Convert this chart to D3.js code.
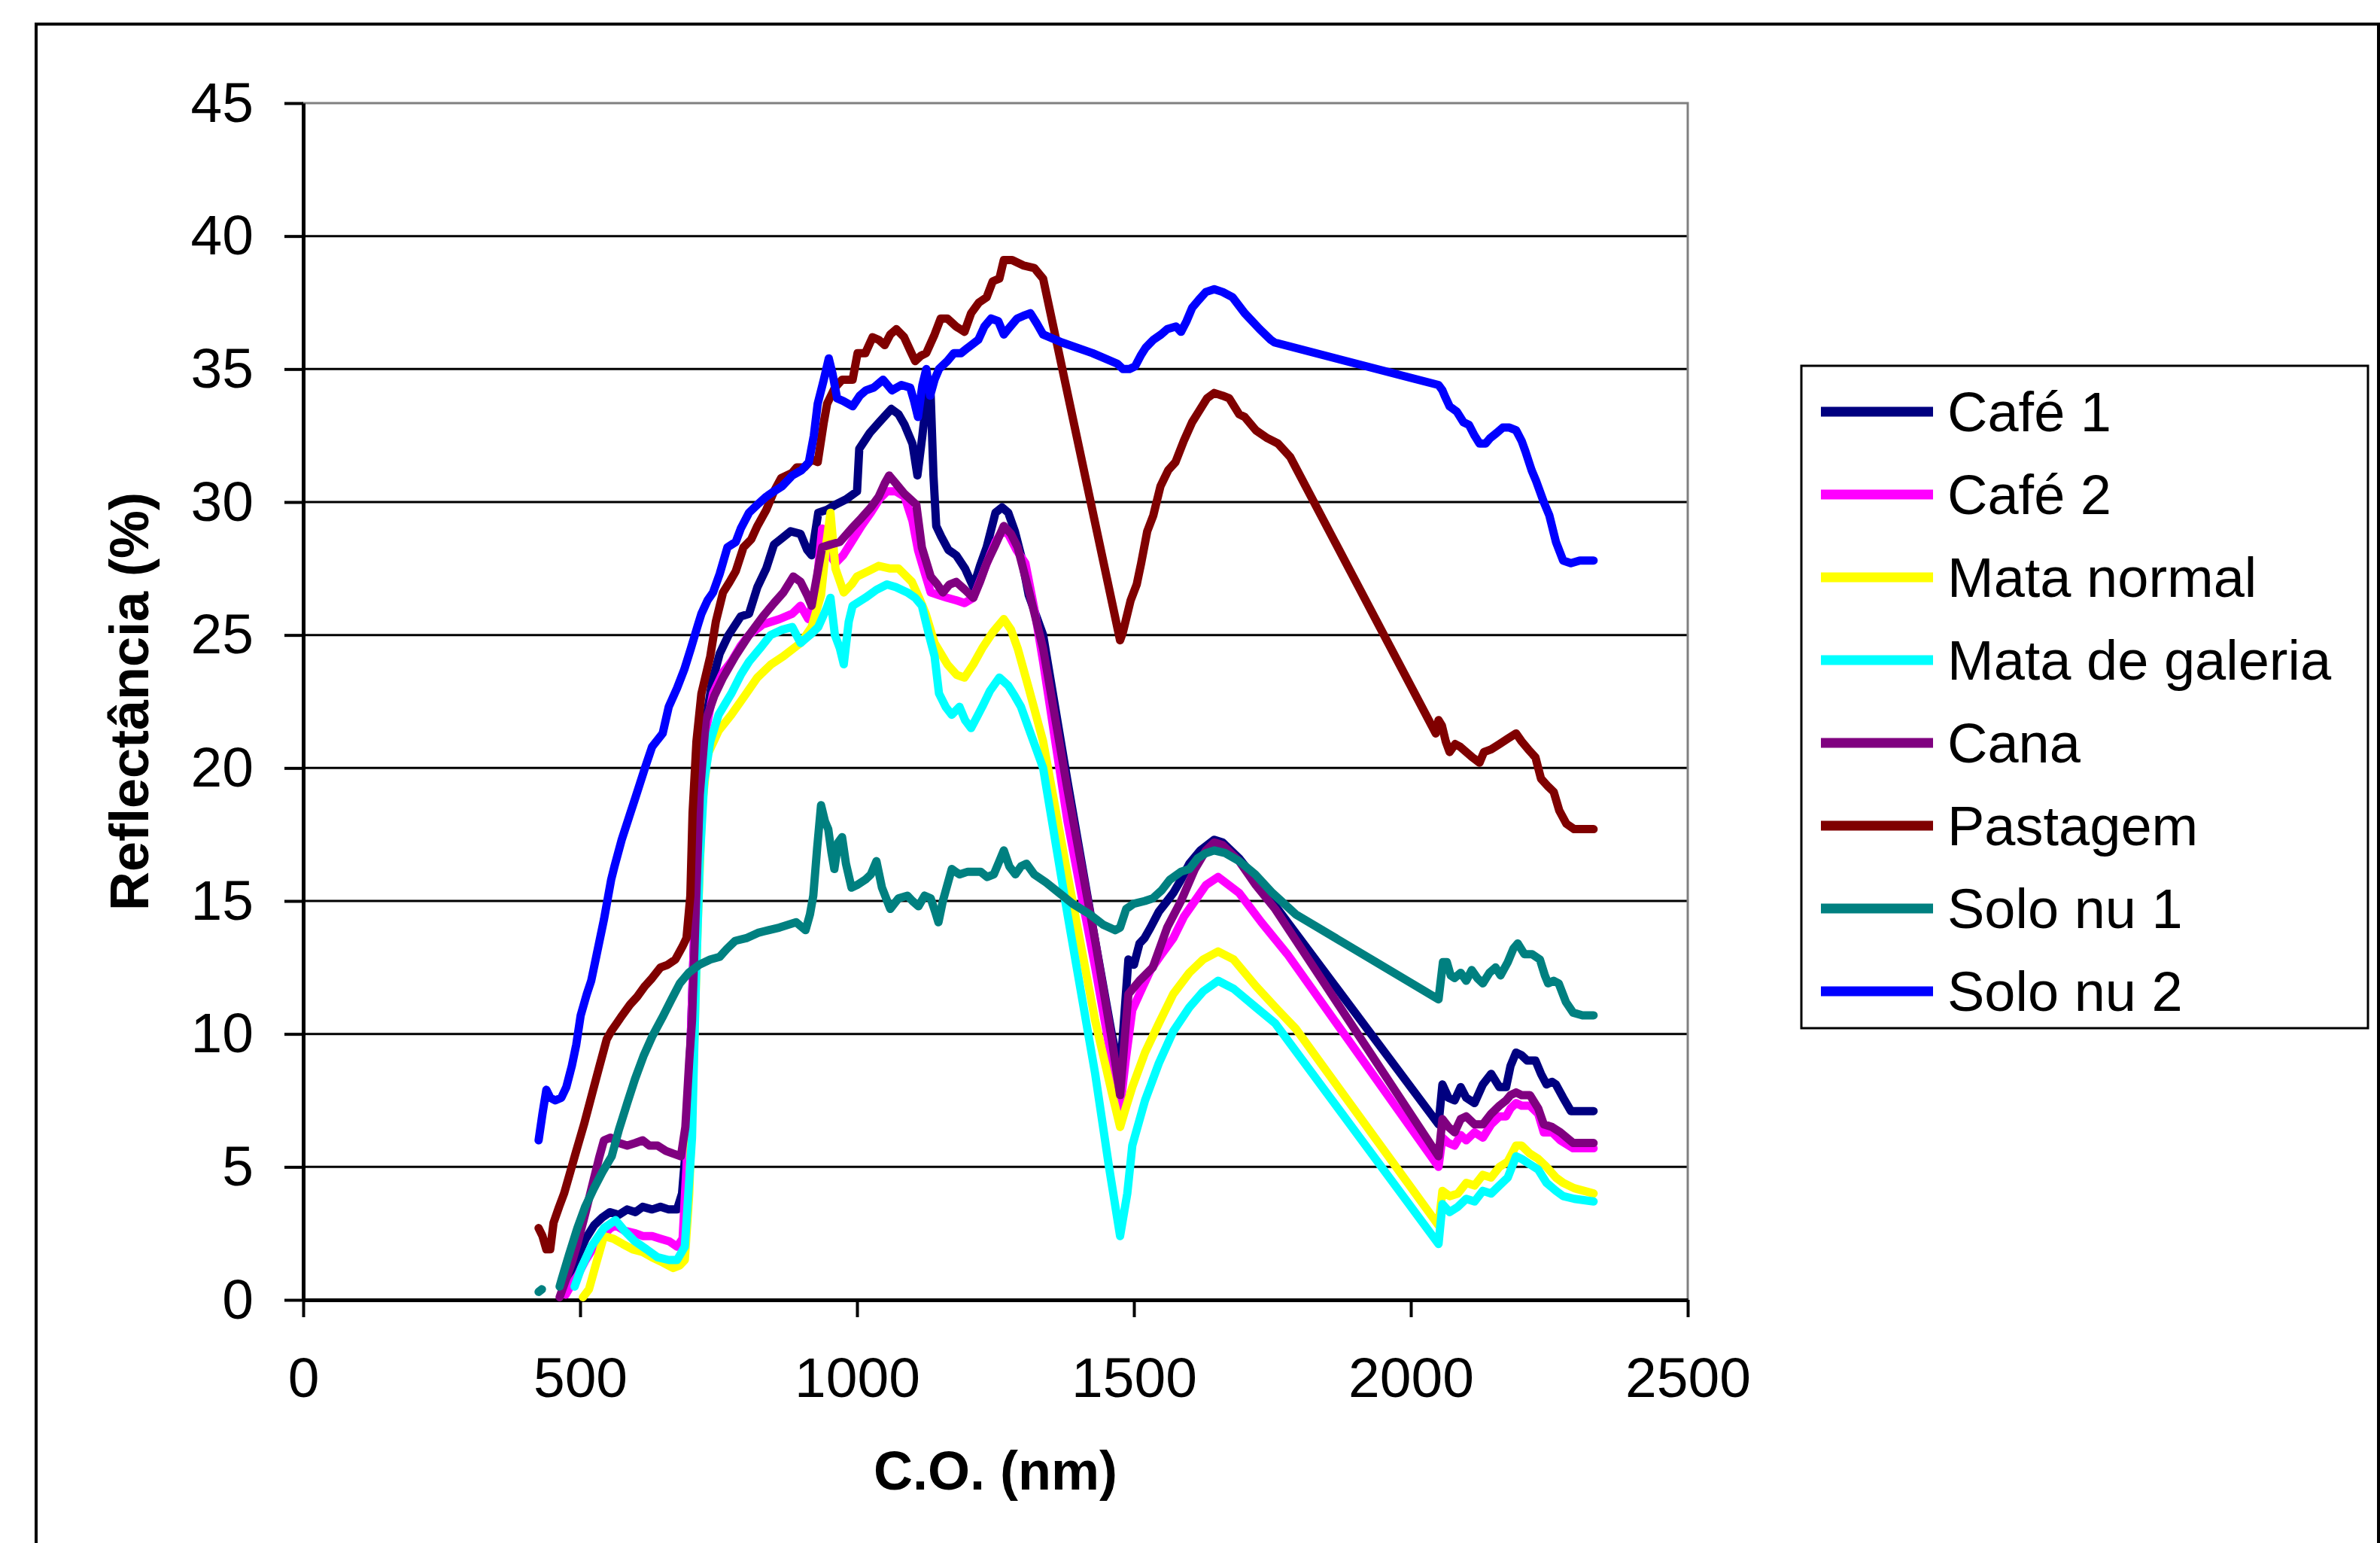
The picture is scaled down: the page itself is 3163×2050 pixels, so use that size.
<!DOCTYPE html>
<html lang="pt">
<head>
<meta charset="UTF-8">
<title>Reflectância</title>
<style>
  body { margin: 0; background: #fff; }
  text { font-family: "Liberation Sans", Arial, sans-serif; }
</style>
</head>
<body>
<script src="https://cdn.jsdelivr.net/npm/d3@7"></script>
<div id="chart"></div>
<script>
// series names and colours (legend order)
var names = ["Café 1", "Café 2", "Mata normal", "Mata de galeria", "Cana", "Pastagem", "Solo nu 1", "Solo nu 2"]
var colors = ["#000080", "#ff00ff", "#ffff00", "#00ffff", "#800080", "#800000", "#008080", "#0000ff"]

var xTicks = [0, 500, 1000, 1500, 2000, 2500]
var yTicks = [0, 5, 10, 15, 20, 25, 30, 35, 40, 45]

// [wavelength nm, reflectance %]
var cafe1 = [[468,0.3],[480,0.9],[495,1.6],[510,2.3],[525,2.8],[540,3.1],[554,3.3],[570,3.2],[585,3.4],[600,3.3],[613,3.5],[630,3.4],[645,3.5],[660,3.4],[675,3.4],[684,4.0],[692,6],[700,10],[708,15],[716,19],[725,21.5],[738,23.2],[752,24.3],[768,25],[790,25.7],[805,25.8],[820,26.8],[836,27.5],[850,28.4],[862,28.6],[880,28.9],[898,28.8],[910,28.2],[918,28.0],[930,29.6],[945,29.7],[961,29.9],[980,30.1],[1000,30.4],[1004,32.0],[1023,32.6],[1040,33.0],[1062,33.5],[1075,33.3],[1086,32.9],[1100,32.2],[1109,31.0],[1118,32.5],[1127,34.2],[1133,34.0],[1138,31],[1143,29.1],[1152,28.7],[1165,28.2],[1179,28.0],[1195,27.5],[1210,26.8],[1222,27.6],[1234,28.3],[1250,29.6],[1262,29.8],[1273,29.6],[1285,28.9],[1296,28.0],[1310,26.5],[1336,25.0],[1380,19.5],[1430,13.5],[1460,10],[1475,8.5],[1482,10.5],[1490,12.8],[1500,12.6],[1510,13.4],[1519,13.6],[1530,14.0],[1545,14.6],[1560,15.0],[1571,15.3],[1585,15.8],[1600,16.4],[1620,16.9],[1645,17.3],[1660,17.2],[1690,16.6],[1720,15.8],[2050,6.6],[2057,8.1],[2068,7.6],[2079,7.5],[2090,8.0],[2100,7.6],[2115,7.4],[2130,8.1],[2145,8.5],[2160,8.0],[2172,8.0],[2180,8.8],[2190,9.3],[2200,9.2],[2210,9.0],[2225,9.0],[2235,8.5],[2245,8.1],[2255,8.2],[2262,8.1],[2275,7.6],[2289,7.1],[2300,7.1],[2330,7.1]]

var cafe2 = [[474,0.2],[485,0.6],[495,0.9],[510,1.5],[525,2.0],[540,2.4],[555,2.7],[564,2.8],[580,2.6],[600,2.5],[613,2.4],[630,2.4],[645,2.3],[661,2.2],[675,2.0],[685,2.3],[692,5],[700,10],[708,15],[716,19],[725,21.2],[740,22.8],[758,23.6],[773,24.0],[790,24.6],[805,25.0],[830,25.4],[860,25.6],[883,25.8],[898,26.1],[912,25.6],[925,26.5],[937,29.0],[945,28.2],[961,27.7],[975,28.0],[990,28.5],[1008,29.1],[1025,29.6],[1040,30.1],[1054,30.4],[1070,30.4],[1086,30.2],[1100,29.3],[1110,28.2],[1117,27.7],[1133,26.6],[1148,26.5],[1163,26.4],[1180,26.3],[1194,26.2],[1210,26.4],[1225,27.2],[1240,28.0],[1250,28.5],[1262,28.9],[1273,28.8],[1288,28.2],[1304,27.7],[1320,26.0],[1336,24.0],[1380,18.0],[1430,12.5],[1460,9.0],[1475,7.2],[1485,9.0],[1497,10.9],[1510,11.5],[1530,12.4],[1550,13.0],[1571,13.6],[1590,14.4],[1610,15.0],[1630,15.6],[1652,15.9],[1690,15.3],[1730,14.2],[1777,13.0],[2050,5.0],[2057,6.1],[2068,5.9],[2079,5.8],[2090,6.2],[2100,6.0],[2115,6.3],[2130,6.1],[2145,6.6],[2160,6.9],[2172,6.9],[2180,7.2],[2190,7.4],[2200,7.3],[2215,7.3],[2230,7.0],[2240,6.3],[2255,6.3],[2270,6.0],[2293,5.7],[2330,5.7]]

var mataNormal = [[505,0.1],[516,0.4],[528,1.3],[543,2.4],[560,2.3],[577,2.1],[595,1.9],[613,1.8],[630,1.6],[650,1.4],[668,1.2],[680,1.3],[689,1.5],[697,4],[705,9],[712,14],[720,18.5],[730,20.5],[750,21.4],[773,22.0],[800,22.8],[820,23.4],[845,23.9],[867,24.2],[898,24.7],[918,25.3],[935,26.5],[945,28.5],[952,29.6],[961,27.5],[976,26.6],[990,26.9],[1000,27.2],[1020,27.4],[1039,27.6],[1060,27.5],[1075,27.5],[1099,27.0],[1112,26.4],[1124,25.8],[1140,24.7],[1163,23.9],[1180,23.5],[1194,23.4],[1210,23.9],[1226,24.5],[1245,25.1],[1265,25.6],[1278,25.2],[1290,24.5],[1310,23.0],[1336,21.0],[1380,16.0],[1430,10.5],[1460,7.8],[1475,6.5],[1485,7.2],[1497,8.0],[1520,9.3],[1545,10.4],[1571,11.5],[1600,12.3],[1625,12.8],[1652,13.1],[1680,12.8],[1720,11.8],[1760,10.9],[1792,10.2],[2050,2.8],[2057,4.1],[2070,3.9],[2085,4.0],[2100,4.4],[2115,4.3],[2130,4.7],[2145,4.6],[2160,5.0],[2175,5.2],[2190,5.8],[2200,5.8],[2215,5.5],[2230,5.3],[2245,5.0],[2262,4.6],[2275,4.4],[2295,4.2],[2330,4.0]]

var mataGaleria = [[490,0.5],[502,1.2],[520,2.0],[543,2.7],[564,3.0],[580,2.6],[599,2.2],[620,1.9],[640,1.6],[660,1.5],[675,1.5],[689,2.0],[697,4.5],[702,6.1],[709,11.9],[716,16.5],[724,19.5],[735,21.0],[750,22.0],[773,22.8],[790,23.5],[805,24.0],[825,24.5],[844,25.0],[865,25.2],[883,25.3],[898,24.7],[915,25.0],[930,25.3],[945,26.0],[952,26.4],[960,25.0],[969,24.5],[976,23.9],[985,25.5],[992,26.1],[1015,26.4],[1035,26.7],[1054,26.9],[1070,26.8],[1091,26.6],[1105,26.4],[1117,26.1],[1130,25.0],[1140,24.2],[1148,22.8],[1160,22.3],[1171,22.0],[1185,22.3],[1195,21.8],[1206,21.5],[1216,21.9],[1226,22.3],[1240,22.9],[1257,23.4],[1273,23.1],[1285,22.7],[1296,22.3],[1315,21.2],[1336,20.0],[1380,14.5],[1430,8.5],[1455,5.0],[1475,2.4],[1488,4.0],[1497,5.8],[1520,7.5],[1545,8.9],[1571,10.1],[1600,11.0],[1625,11.6],[1652,12.0],[1680,11.7],[1720,11.0],[1755,10.4],[2050,2.1],[2057,3.6],[2070,3.3],[2085,3.5],[2100,3.8],[2115,3.7],[2130,4.1],[2145,4.0],[2160,4.3],[2175,4.6],[2190,5.4],[2200,5.3],[2215,5.1],[2230,4.9],[2245,4.4],[2262,4.1],[2275,3.9],[2295,3.8],[2330,3.7]]

var cana = [[463,0.1],[475,0.8],[485,1.4],[495,2.1],[510,3.3],[523,4.4],[535,5.4],[543,6.0],[555,6.1],[570,5.9],[585,5.8],[600,5.9],[613,6.0],[625,5.8],[640,5.8],[655,5.6],[668,5.5],[682,5.4],[690,6.5],[697,9],[702,10.5],[709,14.8],[716,19.0],[727,21.8],[742,22.7],[758,23.4],[780,24.2],[805,25.0],[830,25.7],[850,26.2],[867,26.6],[885,27.2],[898,27.0],[910,26.5],[918,26.1],[937,28.3],[952,28.4],[969,28.5],[990,29.0],[1008,29.4],[1025,29.8],[1039,30.2],[1050,30.7],[1058,31.0],[1070,30.7],[1086,30.3],[1107,29.9],[1117,28.3],[1133,27.2],[1145,26.9],[1155,26.6],[1167,26.9],[1179,27.0],[1195,26.7],[1210,26.4],[1222,27.0],[1234,27.7],[1250,28.4],[1265,29.1],[1278,28.8],[1290,28.3],[1311,26.6],[1336,24.5],[1380,19.2],[1430,13.5],[1460,9.8],[1475,7.7],[1482,9.5],[1490,11.5],[1510,12.0],[1534,12.5],[1560,14.0],[1585,15.0],[1610,16.2],[1630,16.9],[1645,17.2],[1660,17.1],[1690,16.5],[1720,15.6],[1755,14.7],[2050,5.4],[2057,6.8],[2068,6.5],[2079,6.3],[2090,6.8],[2100,6.9],[2115,6.6],[2130,6.6],[2145,7.0],[2160,7.3],[2172,7.5],[2180,7.7],[2190,7.8],[2200,7.7],[2215,7.7],[2230,7.2],[2240,6.6],[2255,6.5],[2270,6.3],[2293,5.9],[2330,5.9]]

var pastagem = [[425,2.7],[432,2.4],[439,1.9],[446,1.9],[452,2.9],[462,3.5],[471,4.0],[482,4.8],[493,5.6],[507,6.6],[521,7.7],[535,8.8],[548,9.8],[556,10.1],[566,10.4],[576,10.7],[590,11.1],[603,11.4],[617,11.8],[630,12.1],[645,12.5],[658,12.6],[672,12.8],[685,13.3],[692,13.6],[699,15.2],[703,18.3],[710,21.0],[719,22.8],[735,24.2],[745,25.5],[758,26.6],[770,27.0],[781,27.4],[795,28.3],[809,28.6],[820,29.1],[836,29.7],[850,30.4],[863,30.9],[883,31.1],[891,31.3],[905,31.3],[918,31.6],[929,31.5],[940,33.0],[946,33.7],[960,34.3],[973,34.6],[992,34.6],[1001,35.6],[1015,35.6],[1028,36.2],[1039,36.1],[1050,35.9],[1060,36.3],[1071,36.5],[1085,36.2],[1096,35.7],[1105,35.3],[1115,35.5],[1125,35.6],[1140,36.3],[1151,36.9],[1163,36.9],[1179,36.6],[1194,36.4],[1206,37.1],[1220,37.5],[1234,37.7],[1245,38.3],[1257,38.4],[1265,39.1],[1280,39.1],[1300,38.9],[1320,38.8],[1336,38.4],[1475,24.8],[1480,25.1],[1494,26.3],[1505,26.9],[1513,27.7],[1524,28.9],[1535,29.5],[1548,30.6],[1562,31.2],[1575,31.5],[1590,32.3],[1605,33.0],[1617,33.4],[1632,33.9],[1645,34.1],[1660,34.0],[1672,33.9],[1690,33.3],[1700,33.2],[1720,32.7],[1741,32.4],[1760,32.2],[1782,31.7],[2045,21.3],[2050,21.8],[2056,21.6],[2063,21.0],[2070,20.6],[2080,20.9],[2089,20.8],[2100,20.6],[2111,20.4],[2124,20.2],[2132,20.6],[2145,20.7],[2160,20.9],[2175,21.1],[2190,21.3],[2200,21.0],[2212,20.7],[2225,20.4],[2235,19.6],[2248,19.3],[2258,19.1],[2268,18.4],[2281,17.9],[2295,17.7],[2330,17.7]]

// null = gap between the lone first sample and the rest
var soloNu1 = [[425,0.3],[431,0.4],null,[463,0.5],[467,0.8],[480,1.7],[495,2.7],[509,3.5],[525,4.2],[540,4.8],[557,5.4],[570,6.4],[585,7.4],[599,8.3],[615,9.2],[630,9.9],[648,10.6],[665,11.3],[680,11.9],[696,12.3],[715,12.6],[735,12.8],[752,12.9],[765,13.2],[780,13.5],[800,13.6],[821,13.8],[840,13.9],[860,14.0],[875,14.1],[890,14.2],[907,13.9],[915,14.5],[921,15.2],[928,17.0],[935,18.6],[942,18.0],[948,17.7],[954,16.8],[959,16.2],[966,17.2],[973,17.4],[980,16.4],[990,15.5],[1000,15.6],[1015,15.8],[1025,16.0],[1035,16.5],[1045,15.5],[1060,14.7],[1075,15.1],[1091,15.2],[1100,15.0],[1111,14.8],[1122,15.2],[1133,15.1],[1141,14.6],[1147,14.2],[1155,15.0],[1171,16.2],[1185,16.0],[1200,16.1],[1223,16.1],[1235,15.9],[1247,16.0],[1257,16.5],[1265,16.9],[1275,16.3],[1286,16.0],[1296,16.3],[1306,16.4],[1320,16.0],[1341,15.7],[1365,15.3],[1389,14.9],[1420,14.5],[1445,14.1],[1466,13.9],[1475,14.0],[1486,14.7],[1500,14.9],[1520,15.0],[1534,15.1],[1550,15.4],[1565,15.8],[1585,16.1],[1600,16.2],[1615,16.6],[1630,16.8],[1645,16.9],[1665,16.8],[1690,16.5],[1719,16.0],[1750,15.3],[1792,14.5],[2050,11.3],[2058,12.7],[2065,12.7],[2072,12.2],[2079,12.1],[2090,12.3],[2100,12.0],[2110,12.4],[2120,12.1],[2130,11.9],[2142,12.3],[2153,12.5],[2162,12.2],[2175,12.7],[2185,13.2],[2193,13.4],[2205,13.0],[2219,13.0],[2233,12.8],[2242,12.2],[2248,11.9],[2258,12.0],[2267,11.9],[2280,11.2],[2293,10.8],[2310,10.7],[2330,10.7]]

var soloNu2 = [[425,6.0],[432,7.0],[439,7.9],[446,7.6],[455,7.5],[466,7.6],[475,8.0],[485,8.8],[493,9.6],[501,10.7],[512,11.5],[520,12.0],[530,13.0],[543,14.3],[556,15.8],[562,16.3],[575,17.3],[589,18.2],[600,18.9],[617,20.0],[630,20.8],[649,21.3],[660,22.3],[675,23.0],[688,23.7],[700,24.5],[713,25.4],[719,25.8],[730,26.3],[740,26.6],[752,27.3],[766,28.3],[781,28.5],[790,29.0],[805,29.6],[820,29.9],[836,30.2],[850,30.4],[865,30.6],[883,31.0],[900,31.2],[913,31.5],[922,32.5],[929,33.7],[940,34.6],[949,35.4],[956,34.8],[964,33.9],[975,33.8],[992,33.6],[1005,34.0],[1016,34.2],[1030,34.3],[1047,34.6],[1063,34.2],[1080,34.4],[1096,34.3],[1103,33.8],[1110,33.2],[1118,34.4],[1125,35.0],[1132,34.0],[1140,34.6],[1148,35.0],[1163,35.3],[1175,35.6],[1188,35.6],[1200,35.8],[1219,36.1],[1230,36.6],[1242,36.9],[1255,36.8],[1265,36.3],[1273,36.5],[1289,36.9],[1300,37.0],[1313,37.1],[1325,36.7],[1336,36.3],[1370,36.0],[1425,35.6],[1470,35.2],[1480,35.0],[1492,35.0],[1502,35.1],[1512,35.5],[1521,35.8],[1535,36.1],[1549,36.3],[1560,36.5],[1576,36.6],[1585,36.4],[1595,36.8],[1605,37.3],[1617,37.6],[1630,37.9],[1645,38.0],[1660,37.9],[1678,37.7],[1700,37.1],[1727,36.5],[1747,36.1],[1754,36.0],[2050,34.4],[2057,34.2],[2061,34.0],[2070,33.6],[2083,33.4],[2095,33.0],[2105,32.9],[2115,32.5],[2124,32.2],[2135,32.2],[2143,32.4],[2155,32.6],[2166,32.8],[2178,32.8],[2190,32.7],[2200,32.3],[2207,31.9],[2218,31.2],[2226,30.8],[2240,30.0],[2250,29.5],[2262,28.5],[2275,27.8],[2289,27.7],[2305,27.8],[2330,27.8]]

var series = [cafe1, cafe2, mataNormal, mataGaleria, cana, pastagem, soloNu1, soloNu2]

var width = 3163, height = 2050
var svg = d3.select("#chart")
  .append("svg")
  .attr("width", width)
  .attr("height", height)

// outer chart frame (runs off the bottom like the original)
svg.append("rect")
  .attr("x", 48).attr("y", 32)
  .attr("width", 3113).attr("height", 2100)
  .attr("fill", "#fff")
  .attr("stroke", "#000")
  .attr("stroke-width", 4)

var xScale = d3.scaleLinear().domain([0, 2500]).range([403, 2243])
var yScale = d3.scaleLinear().domain([0, 45]).range([1727, 137])

// gridlines
svg.append("g")
  .selectAll("line")
  .data(yTicks.filter(function(d){ return d > 0 && d < 45 }))
  .join("line")
  .attr("x1", xScale(0)).attr("x2", xScale(2500))
  .attr("y1", function(d){ return yScale(d) })
  .attr("y2", function(d){ return yScale(d) })
  .attr("stroke", "#000")
  .attr("stroke-width", 3)

// plot area border
svg.append("rect")
  .attr("x", xScale(0)).attr("y", yScale(45))
  .attr("width", xScale(2500) - xScale(0))
  .attr("height", yScale(0) - yScale(45))
  .attr("fill", "none")
  .attr("stroke", "#808080")
  .attr("stroke-width", 3)

var xAxis = d3.axisBottom(xScale).tickValues(xTicks).tickFormat(d3.format("d"))
  .tickSizeInner(23).tickSizeOuter(0).tickPadding(53)
var yAxis = d3.axisLeft(yScale).tickValues(yTicks).tickFormat(d3.format("d"))
  .tickSizeInner(25).tickSizeOuter(0).tickPadding(41)

var gx = svg.append("g").attr("transform", "translate(0," + yScale(0) + ")").call(xAxis)
var gy = svg.append("g").attr("transform", "translate(" + xScale(0) + ",0)").call(yAxis)

;[gx, gy].forEach(function(g){
  g.select(".domain").attr("stroke", "#000").attr("stroke-width", 5)
  g.selectAll(".tick line").attr("stroke", "#000").attr("stroke-width", 4)
  g.selectAll(".tick text")
    .attr("fill", "#000")
    .style("font-family", '"Liberation Sans", Arial, sans-serif')
    .style("font-size", "75px")
})

// spectra
var line = d3.line()
  .defined(function(d){ return d !== null })
  .x(function(d){ return xScale(d[0]) })
  .y(function(d){ return yScale(d[1]) })

svg.append("g")
  .selectAll("path")
  .data(series)
  .join("path")
  .attr("d", line)
  .attr("fill", "none")
  .attr("stroke", function(d, i){ return colors[i] })
  .attr("stroke-width", 11)
  .attr("stroke-linejoin", "round")
  .attr("stroke-linecap", "round")

// axis titles
svg.append("text")
  .attr("x", (xScale(0) + xScale(2500)) / 2)
  .attr("y", 1979)
  .attr("text-anchor", "middle")
  .style("font-size", "72px")
  .style("font-weight", "bold")
  .text("C.O. (nm)")

svg.append("text")
  .attr("transform", "translate(197," + (yScale(0) + yScale(45)) / 2 + ") rotate(-90)")
  .attr("text-anchor", "middle")
  .style("font-size", "72px")
  .style("font-weight", "bold")
  .text("Reflectância (%)")

// legend
var legend = svg.append("g")
legend.append("rect")
  .attr("x", 2394).attr("y", 486)
  .attr("width", 753).attr("height", 880)
  .attr("fill", "#fff")
  .attr("stroke", "#000")
  .attr("stroke-width", 3)

var items = legend.selectAll("g.item")
  .data(names)
  .join("g")
  .attr("class", "item")
  .attr("transform", function(d, i){ return "translate(0," + (547 + i * 110) + ")" })

items.append("line")
  .attr("x1", 2420).attr("x2", 2569)
  .attr("stroke", function(d, i){ return colors[i] })
  .attr("stroke-width", 13)

items.append("text")
  .attr("x", 2588)
  .attr("y", 26)
  .style("font-size", "74px")
  .text(function(d){ return d })
</script>
</body>
</html>
